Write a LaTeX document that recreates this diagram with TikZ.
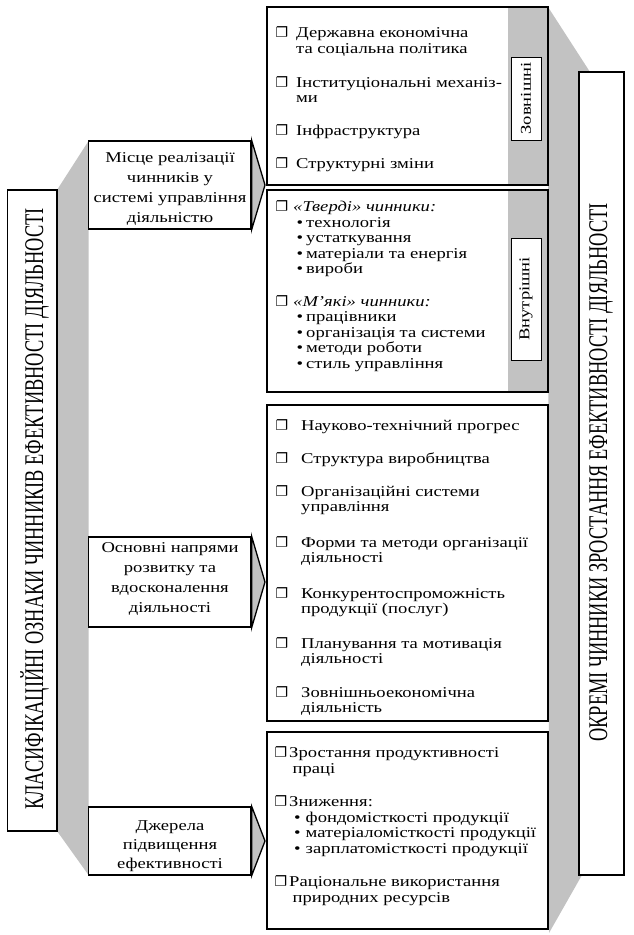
\documentclass[tikz,border=0pt]{standalone}
\usepackage{fontspec}
\setmainfont{Liberation Serif}[FakeStretch=1.24]
\newfontfamily\colfont{Liberation Serif}[FakeStretch=0.68]
\newfontfamily\symfont{DejaVu Sans}
\tikzset{
  box/.style={draw=black, line width=1.3pt, fill=white, inner sep=0pt, rectangle},
  band/.style={fill=black!24},
  tri/.style={fill=black!24, draw=black, line width=1.3pt, line join=miter},
  vlab/.style={draw=black, line width=0.8pt, fill=white, inner sep=0pt, font=\fontsize{15}{15}\selectfont},
  txt/.style={anchor=base west, inner sep=0pt, font=\fontsize{15}{15}\selectfont},
  labtxt/.style={anchor=base, inner sep=0pt, font=\fontsize{15}{15}\selectfont},
  cbx/.style={anchor=base, inner sep=0pt, font=\symfont\fontsize{14}{14}\selectfont},
  bul/.style={anchor=base, inner sep=0pt, font=\fontsize{15}{15}\selectfont},
  coltxt/.style={inner sep=0pt, font=\colfont\fontsize{27}{27}\selectfont},
}
\newcommand\itline[4]{\node[txt] (#1) at (#2,#3) {#4};}
\newcommand\itcb[3]{\node[cbx] (#1) at (#2,#3) {❐};}
\newcommand\itbul[3]{\node[bul] (#1) at (#2,#3) {•};}
\newcommand\labline[4]{\node[labtxt] (#1) at (#2,#3) {#4};}
\begin{document}
\begin{tikzpicture}[x=1pt,y=-1pt]
\useasboundingbox (0,0) rectangle (634,935);
% grey bands
\fill[band] (57,190) -- (88.5,141) -- (88.5,875) -- (57,831) -- cycle;
\fill[band] (548,7) -- (590,72) -- (590,875) -- (582,875) -- (549,933) -- cycle;

% columns
\node[box, minimum width=49.5pt, minimum height=641pt] (lcol) at (32.25,510.5) {};
\node[coltxt, rotate=90, anchor=base] (ltxt) at (43,509) {КЛАСИФІКАЦІЙНІ ОЗНАКИ ЧИННИКІВ ЕФЕКТИВНОСТІ ДІЯЛЬНОСТІ};
\node[box, minimum width=45pt, minimum height=803pt] (rcol) at (601.5,473.5) {};
\node[coltxt, rotate=90, anchor=base] (rtxt) at (607,472.5) {ОКРЕМІ ЧИННИКИ ЗРОСТАННЯ ЕФЕКТИВНОСТІ ДІЯЛЬНОСТІ};

% content boxes
\node[box, minimum width=281pt, minimum height=178pt] (b1) at (407.5,96) {};
\fill[band] (508,7.65) rectangle (547.35,184.35);
\node[vlab, rotate=90, minimum width=83pt, minimum height=30pt] (zl) at (526,98.5) {Зовнішні};
\node[box, minimum width=281pt, minimum height=202pt] (b2) at (407.5,291) {};
\fill[band] (508,190.65) rectangle (547.35,391.35);
\node[vlab, rotate=90, minimum width=122pt, minimum height=30pt] (vl) at (526,299) {Внутрішні};
\node[box, minimum width=281pt, minimum height=316pt] (b3) at (407.5,563) {};
\node[box, minimum width=281pt, minimum height=197pt] (b4) at (407.5,830.5) {};

% label boxes with arrow tips
\node[box, minimum width=162.5pt, minimum height=88pt] (l1) at (169.75,185) {};
\coordinate (t1) at (265,185);
\filldraw[tri] (l1.north east) -- (t1) -- (l1.south east) -- cycle;
\labline{l1a}{170}{162}{Місце реалізації}
\labline{l1b}{170}{182}{чинників у}
\labline{l1c}{170}{202}{системі управління}
\labline{l1d}{170}{222}{діяльністю}

\node[box, minimum width=162.5pt, minimum height=90pt] (l2) at (169.75,582) {};
\coordinate (t2) at (265,582);
\filldraw[tri] (l2.north east) -- (t2) -- (l2.south east) -- cycle;
\labline{l2a}{170}{552}{Основні напрями}
\labline{l2b}{170}{572}{розвитку та}
\labline{l2c}{170}{592}{вдосконалення}
\labline{l2d}{170}{612}{діяльності}

\node[box, minimum width=162.5pt, minimum height=68pt] (l3) at (169.75,841) {};
\coordinate (t3) at (265,841);
\filldraw[tri] (l3.north east) -- (t3) -- (l3.south east) -- cycle;
\labline{l3a}{170}{830}{Джерела}
\labline{l3b}{170}{849}{підвищення}
\labline{l3c}{170}{868}{ефективності}

% box 1 items
\itcb{c11}{282}{37}  \itline{i11}{296}{37}{Державна економічна}
\itline{i11b}{296}{53}{та соціальна політика}
\itcb{c12}{282}{87}  \itline{i12}{296}{87}{Інституціональні механіз-}
\itline{i12b}{296}{102.5}{ми}
\itcb{c13}{282}{135} \itline{i13}{296}{135}{Інфраструктура}
\itcb{c14}{282}{168} \itline{i14}{296}{168}{Структурні зміни}

% box 2 items
\itcb{c21}{282}{211.5} \itline{i21}{293}{211.5}{\itshape «Тверді» чинники:}
\itbul{u21}{300}{227}   \itline{i21a}{306}{227}{технологія}
\itbul{u22}{300}{242.5} \itline{i21b}{306}{242.5}{устаткування}
\itbul{u23}{300}{258}   \itline{i21c}{306}{258}{матеріали та енергія}
\itbul{u24}{300}{273.5} \itline{i21d}{306}{273.5}{вироби}
\itcb{c22}{282}{306}   \itline{i22}{293}{306}{\itshape «М’які» чинники:}
\itbul{u25}{300}{321.5} \itline{i22a}{306}{321.5}{працівники}
\itbul{u26}{300}{337}   \itline{i22b}{306}{337}{організація та системи}
\itbul{u27}{300}{352.5} \itline{i22c}{306}{352.5}{методи роботи}
\itbul{u28}{300}{368}   \itline{i22d}{306}{368}{стиль управління}

% box 3 items
\itcb{c31}{282}{430} \itline{i31}{301}{430}{Науково-технічний прогрес}
\itcb{c32}{282}{463} \itline{i32}{301}{463}{Структура виробництва}
\itcb{c33}{282}{496} \itline{i33}{301}{496}{Організаційні системи}
\itline{i33b}{301}{511}{управління}
\itcb{c34}{282}{547} \itline{i34}{301}{547}{Форми та методи організації}
\itline{i34b}{301}{562}{діяльності}
\itcb{c35}{282}{598} \itline{i35}{301}{598}{Конкурентоспроможність}
\itline{i35b}{301}{613.5}{продукції (послуг)}
\itcb{c36}{282}{648} \itline{i36}{301}{648}{Планування та мотивація}
\itline{i36b}{301}{663}{діяльності}
\itcb{c37}{282}{697} \itline{i37}{301}{697}{Зовнішньоекономічна}
\itline{i37b}{301}{712}{діяльність}

% box 4 items
\itcb{c41}{281}{757} \itline{i41}{289}{757}{Зростання продуктивності}
\itline{i41b}{292.5}{773}{праці}
\itcb{c42}{281}{806} \itline{i42}{289}{806}{Зниження:}
\itbul{u41}{297.5}{822}   \itline{i42a}{305.5}{822}{фондомісткості продукції}
\itbul{u42}{297.5}{837.5} \itline{i42b}{305.5}{837.5}{матеріаломісткості продукції}
\itbul{u43}{297.5}{853}   \itline{i42c}{305.5}{853}{зарплатомісткості продукції}
\itcb{c43}{281}{886} \itline{i43}{289}{886}{Раціональне використання}
\itline{i43b}{292.5}{902}{природних ресурсів}
\end{tikzpicture}
\end{document}
